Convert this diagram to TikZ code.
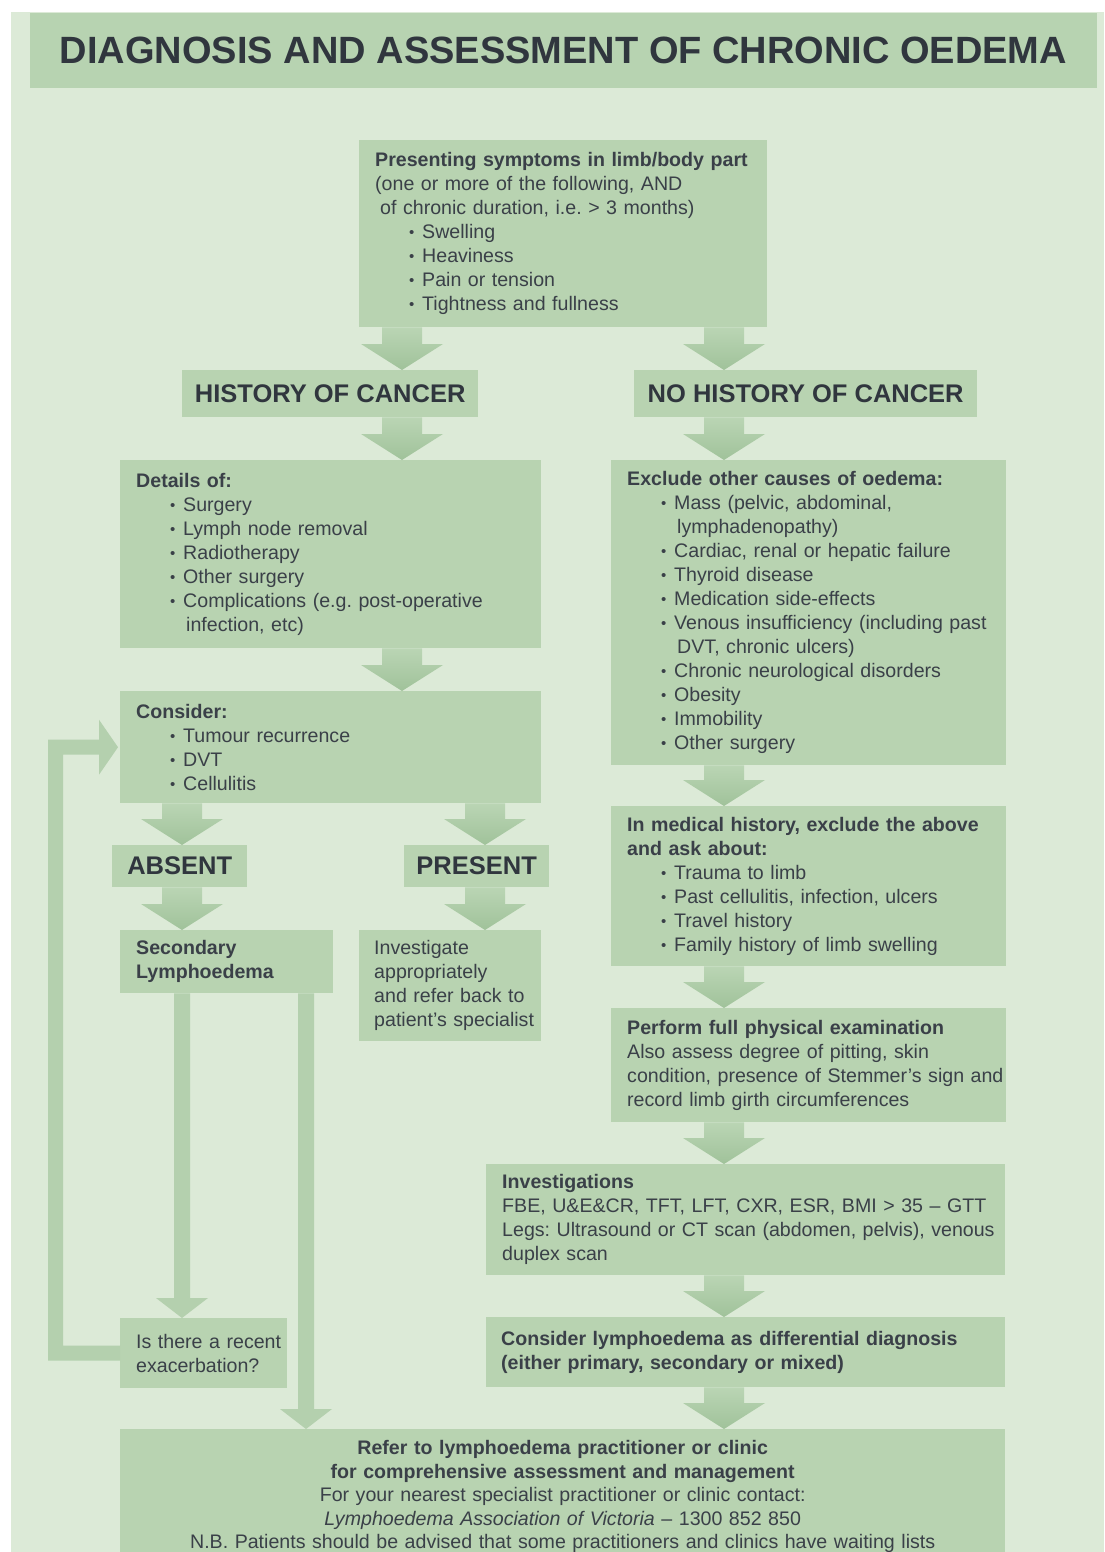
\documentclass[tikz,border=0pt]{standalone}
\usepackage{fontspec}
\setmainfont{Liberation Sans}
\usetikzlibrary{calc}
\frenchspacing
\definecolor{pagebg}{HTML}{DCEAD7}
\definecolor{boxfill}{HTML}{B8D3B1}
\definecolor{titlefill}{HTML}{B7D3B1}
\definecolor{arrowtop}{HTML}{BAD5B4}
\definecolor{arrowbot}{HTML}{A0C29A}
\definecolor{barfill}{HTML}{B4D0AE}
\definecolor{txt}{HTML}{3A4048}
\definecolor{hdrtxt}{HTML}{30363E}

\newcommand{\bitem}[1]{\hspace*{34pt}\makebox[13pt][l]{\raisebox{1pt}{\fontsize{15}{15}\selectfont\textbullet}}\mbox{#1}}
\newcommand{\contline}[1]{\hspace*{50pt}\mbox{#1}}

\newcommand\blockarrow[2]{%
  \shade[top color=arrowtop, bottom color=arrowbot]
   let \p1=(#1), \p2=(#2) in
   (\x1-20pt,\y1) -- (\x1+20pt,\y1) -- (\x1+20pt,\y2+26pt) -- (\x1+41pt,\y2+26pt)
   -- (\x1,\y2) -- (\x1-41pt,\y2+26pt) -- (\x1-20pt,\y2+26pt) -- cycle;}
\newcommand\bararrow[2]{%
  \fill[barfill]
   let \p1=(#1), \p2=(#2) in
   (\x1-8pt,\y1) -- (\x1+8pt,\y1) -- (\x1+8pt,\y2+20pt) -- (\x1+26pt,\y2+20pt)
   -- (\x1,\y2) -- (\x1-26pt,\y2+20pt) -- (\x1-8pt,\y2+20pt) -- cycle;}

\tikzset{
  box/.style={rectangle, fill=boxfill, draw=none, anchor=north west,
    inner xsep=16pt, inner ysep=0pt, align=left, text=txt,
    font=\fontsize{19.6}{24}\selectfont},
  cbox/.style={box, align=center, font=\fontsize{19.6}{23.5}\selectfont},
  hdr/.style={rectangle, fill=boxfill, draw=none, anchor=north west,
    inner sep=0pt, text=hdrtxt, font=\fontsize{25.5}{30}\selectfont\bfseries},
  titlebar/.style={rectangle, fill=titlefill, draw=none, inner sep=0pt,
    text=hdrtxt, font=\fontsize{38}{44}\selectfont\bfseries},
}

\begin{document}
\begin{tikzpicture}[x=1pt,y=-1pt]
\useasboundingbox (0,0) rectangle (1104,1552);
\clip (0,0) rectangle (1104,1552);
\fill[white] (0,0) rectangle (1104,1552);
\fill[pagebg] (11,12) rectangle (1104,1552);

\node[titlebar, minimum width=1067pt, minimum height=75pt] (title) at (563.5,50.5)
  {DIAGNOSIS AND ASSESSMENT OF CHRONIC OEDEMA};

% column coordinates
\coordinate (cL) at (402,0);
\coordinate (cR) at (724,0);
\coordinate (cA) at (182,0);
\coordinate (cP) at (485,0);
\coordinate (cB) at (306,0);

% boxes
\node[box, minimum width=408pt, minimum height=187pt, text width=376pt] (pres) at (359,140)
  {\mbox{\textbf{Presenting symptoms in limb/body part}}\\
   \mbox{(one or more of the following, AND}\\
   \hspace*{5pt}\mbox{of chronic duration, i.e. > 3 months)}\\
   \bitem{Swelling}\\
   \bitem{Heaviness}\\
   \bitem{Pain or tension}\\
   \bitem{Tightness and fullness}};

\node[hdr, minimum width=296pt, minimum height=47pt] (hist) at (182,370) {HISTORY OF CANCER};
\node[hdr, minimum width=343pt, minimum height=47pt] (nohist) at (634,370) {NO HISTORY OF CANCER};

\node[box, minimum width=421pt, minimum height=188pt, text width=389pt] (details) at (120,460)
  {\textbf{Details of:}\\
   \bitem{Surgery}\\
   \bitem{Lymph node removal}\\
   \bitem{Radiotherapy}\\
   \bitem{Other surgery}\\
   \bitem{Complications (e.g. post-operative}\\
   \contline{infection, etc)}};

\node[box, minimum width=395pt, minimum height=305pt, text width=363pt] (exclude) at (611,460)
  {\textbf{Exclude other causes of oedema:}\\
   \bitem{Mass (pelvic, abdominal,}\\
   \contline{lymphadenopathy)}\\
   \bitem{Cardiac, renal or hepatic failure}\\
   \bitem{Thyroid disease}\\
   \bitem{Medication side-effects}\\
   \bitem{Venous insufficiency (including past}\\
   \contline{DVT, chronic ulcers)}\\
   \bitem{Chronic neurological disorders}\\
   \bitem{Obesity}\\
   \bitem{Immobility}\\
   \bitem{Other surgery}};

\node[box, minimum width=421pt, minimum height=112pt, text width=389pt] (consider) at (120,691)
  {\textbf{Consider:}\\
   \bitem{Tumour recurrence}\\
   \bitem{DVT}\\
   \bitem{Cellulitis}};

\node[hdr, minimum width=135pt, minimum height=42pt] (absent) at (112,845) {ABSENT};
\node[hdr, minimum width=145pt, minimum height=42pt] (present) at (404,845) {PRESENT};

\node[box, minimum width=213pt, minimum height=63pt, text width=181pt] (second) at (120,930)
  {\textbf{Secondary}\\ \textbf{Lymphoedema}};

\node[box, minimum width=182pt, minimum height=111pt, text width=152pt, inner xsep=15pt] (investigate) at (359,930)
  {Investigate\\ appropriately\\ \mbox{and refer back to}\\ \mbox{patient's specialist}};

\node[box, minimum width=395pt, minimum height=160pt, text width=363pt] (medical) at (611,806)
  {\textbf{In medical history, exclude the above}\\
   \textbf{and ask about:}\\
   \bitem{Trauma to limb}\\
   \bitem{Past cellulitis, infection, ulcers}\\
   \bitem{Travel history}\\
   \bitem{Family history of limb swelling}};

\node[box, minimum width=395pt, minimum height=114pt, text width=363pt] (perform) at (611,1008)
  {\textbf{Perform full physical examination}\\
   \mbox{Also assess degree of pitting, skin}\\
   \mbox{condition, presence of Stemmer's sign and}\\
   \mbox{record limb girth circumferences}};

\node[box, minimum width=519pt, minimum height=111pt, text width=487pt, inner xsep=15pt] (invest) at (486,1164)
  {\textbf{Investigations}\\
   \mbox{FBE, U\&E\&CR, TFT, LFT, CXR, ESR, BMI > 35 – GTT}\\
   \mbox{Legs: Ultrasound or CT scan (abdomen, pelvis), venous}\\
   duplex scan};

\node[box, minimum width=519pt, minimum height=70pt, text width=489pt, inner xsep=15pt] (lymdiag) at (486,1317)
  {\textbf{\mbox{Consider lymphoedema as differential diagnosis}}\\
   \textbf{(either primary, secondary or mixed)}};

\node[box, minimum width=167pt, minimum height=70pt, text width=135pt] (isthere) at (120,1318)
  {\mbox{Is there a recent}\\ exacerbation?};

\node[cbox, minimum width=885pt, minimum height=135pt, text width=853pt] (final) at (120,1429)
  {\textbf{Refer to lymphoedema practitioner or clinic}\\
   \textbf{for comprehensive assessment and management}\\
   For your nearest specialist practitioner or clinic contact:\\
   \textit{Lymphoedema Association of Victoria} – 1300 852 850\\
   \mbox{N.B. Patients should be advised that some practitioners and clinics have waiting lists}};

% block arrows
\blockarrow{cL |- pres.south}{cL |- hist.north}
\blockarrow{cR |- pres.south}{cR |- nohist.north}
\blockarrow{cL |- hist.south}{cL |- details.north}
\blockarrow{cR |- nohist.south}{cR |- exclude.north}
\blockarrow{cL |- details.south}{cL |- consider.north}
\blockarrow{cA |- consider.south}{cA |- absent.north}
\blockarrow{cP |- consider.south}{cP |- present.north}
\blockarrow{cA |- absent.south}{cA |- second.north}
\blockarrow{cP |- present.south}{cP |- investigate.north}
\blockarrow{cR |- exclude.south}{cR |- medical.north}
\blockarrow{cR |- medical.south}{cR |- perform.north}
\blockarrow{cR |- perform.south}{cR |- invest.north}
\blockarrow{cR |- invest.south}{cR |- lymdiag.north}
\blockarrow{cR |- lymdiag.south}{cR |- final.north}

% thin arrows from secondary lymphoedema
\bararrow{cA |- second.south}{cA |- isthere.north}
\bararrow{cB |- second.south}{cB |- final.north}

% loop back to consider
\fill[barfill] let \p1=(isthere.west), \p2=(consider.west) in
  (\x1,\y1-7.5pt) -- (\x1-72pt,\y1-7.5pt) -- (\x1-72pt,\y2+7.5pt)
  -- (\x2-21pt,\y2+7.5pt) -- (\x2-21pt,\y2+27.5pt) -- (\x2-2pt,\y2)
  -- (\x2-21pt,\y2-27.5pt) -- (\x2-21pt,\y2-7.5pt) -- (\x1-57pt,\y2-7.5pt)
  -- (\x1-57pt,\y1+7.5pt) -- (\x1,\y1+7.5pt) -- cycle;
\end{tikzpicture}
\end{document}
